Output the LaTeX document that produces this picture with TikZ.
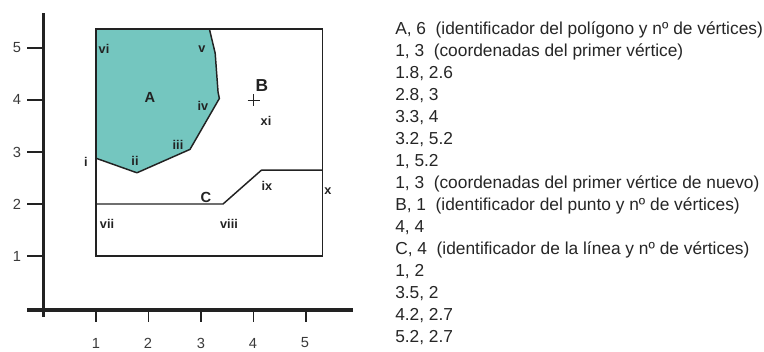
\documentclass[tikz,border=0pt]{standalone}
\usepackage{fontspec}
\setmainfont{Liberation Sans}
\definecolor{polyfill}{HTML}{74C6BF}
\definecolor{ink}{HTML}{222222}
\definecolor{txt}{HTML}{262626}
\definecolor{numtxt}{HTML}{3A3A3A}
\begin{document}
\begin{tikzpicture}[x=0.75pt,y=0.75pt,
  axisline/.style={line width=2.4pt,ink},
  tickline/.style={line width=0.9pt,ink},
  ticklab/.style={font=\fontsize{11}{12}\selectfont,text=numtxt,inner sep=0pt},
  vlab/.style={font=\fontsize{9.5}{10}\selectfont\bfseries,text=ink,inner sep=0pt},
  midlab/.style={font=\fontsize{11}{12}\selectfont\bfseries,text=ink,inner sep=0pt},
  biglab/.style={font=\fontsize{13}{14}\selectfont\bfseries,text=ink,inner sep=0pt},
  listline/.style={font=\fontsize{13}{14}\selectfont,text=txt,anchor=west,inner sep=0pt},
  edge/.style={line width=1.1pt,ink,line join=round}]
\useasboundingbox (0,0) rectangle (764,352);
\fill[white] (0,0) rectangle (764,352);

% ---- map: data (X,Y) -> px (43.5+52.5X, 44+52Y)
\begin{scope}[shift={(43.5*0.75pt,44*0.75pt)},x=39.375pt,y=39pt]
  % region A
  \fill[polyfill] (1,2.88) -- (1.78,2.6) -- (2.79,3.05) -- (3.35,4.03)
     -- (3.325,4.15) -- (3.27,4.9) -- (3.16,5.365) -- (1,5.365) -- cycle;
  % frame
  \draw[line width=0.8pt,ink] (1,1) rectangle (5.32,5.365);
  \draw[edge] (1,2.88) -- (1.78,2.6) -- (2.79,3.05) -- (3.35,4.03)
     -- (3.325,4.15) -- (3.27,4.9) -- (3.16,5.365);
  % line C
  \coordinate (c1) at (1,2);
  \coordinate (c2) at (3.42,2);
  \coordinate (c3) at (4.15,2.65);
  \coordinate (c4) at (5.32,2.65);
  \draw[edge] (c1) -- (c2) -- (c3) -- (c4);
  % point B
  \coordinate (pB) at (4,4);
  \draw[line width=0.7pt,ink] ([xshift=-6*0.75pt]pB) -- ([xshift=6*0.75pt]pB)
     ([yshift=-6*0.75pt]pB) -- ([yshift=6*0.75pt]pB);
  % axes
  \draw[axisline] (0,-0.17) -- (0,5.67);
  \draw[axisline] (-0.31,-0.04) -- (5.9,-0.04);
  \foreach \k in {1,...,5}{
    \draw[tickline] (\k,-0.04) -- (\k,-0.27);
    \draw[tickline] (0,\k) -- (-0.31,\k);
  }
\end{scope}

% axis numbers
\foreach \k/\px in {1/96,2/148,3/201,4/253,5/305}
  \node[ticklab] (xl\k) at (\px,352-343) {\k};
\foreach \k/\py in {1/256,2/204,3/152,4/99,5/48}
  \node[ticklab] (yl\k) at (17,352-\py) {\k};

% vertex and feature labels
\node[vlab] (lvi)   at (104,352-49)  {vi};
\node[vlab] (lv)    at (202,352-49)  {v};
\node[midlab] (lA)  at (150,352-97)  {A};
\node[vlab] (liv)   at (203,352-106) {iv};
\node[vlab] (liii)  at (178,352-145) {iii};
\node[vlab] (lii)   at (135,352-161) {ii};
\node[vlab] (li)    at (86,352-162)  {i};
\node[biglab] (lB)  at (262,352-86)  {B};
\node[vlab] (lxi)   at (266,352-121) {xi};
\node[vlab] (lix)   at (267,352-186) {ix};
\node[vlab] (lx)    at (328,352-191) {x};
\node[midlab] (lC)  at (206,352-197) {C};
\node[vlab] (lvii)  at (107,352-224) {vii};
\node[vlab] (lviii) at (229,352-224) {viii};

% coordinate listing
\foreach \t [count=\i from 0] in {
  {A, 6\ \ (identificador del polígono y nº de vértices)},
  {1, 3\ \ (coordenadas del primer vértice)},
  {1.8, 2.6},
  {2.8, 3},
  {3.3, 4},
  {3.2, 5.2},
  {1, 5.2},
  {1, 3\ \ (coordenadas del primer vértice de nuevo)},
  {B, 1\ \ (identificador del punto y nº de vértices)},
  {4, 4},
  {C, 4\ \ (identificador de la línea y nº de vértices)},
  {1, 2},
  {3.5, 2},
  {4.2, 2.7},
  {5.2, 2.7}}
  \node[listline] (row\i) at (395,352-30-22*\i) {\t};
\end{tikzpicture}
\end{document}
